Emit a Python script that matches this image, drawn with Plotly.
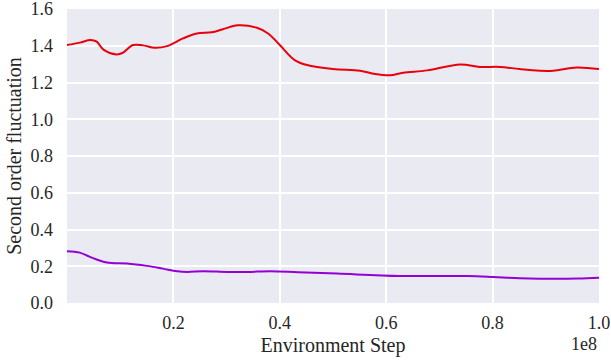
import plotly.graph_objects as go

# x in units of 1e8 environment steps
red_x = [0.0, 0.024, 0.044, 0.056, 0.068, 0.093, 0.105, 0.124, 0.143, 0.165, 0.188, 0.218, 0.244, 0.272, 0.293, 0.321, 0.357, 0.378, 0.400, 0.428, 0.451, 0.500, 0.551, 0.579, 0.607, 0.632, 0.677, 0.739, 0.776, 0.814, 0.851, 0.889, 0.914, 0.958, 1.0]
red_y = [1.404, 1.417, 1.431, 1.422, 1.380, 1.353, 1.362, 1.404, 1.402, 1.389, 1.398, 1.44, 1.467, 1.473, 1.49, 1.511, 1.498, 1.467, 1.404, 1.322, 1.295, 1.273, 1.264, 1.246, 1.239, 1.253, 1.266, 1.298, 1.285, 1.285, 1.273, 1.264, 1.264, 1.282, 1.273]

purple_x = [0.0, 0.024, 0.043, 0.075, 0.113, 0.150, 0.180, 0.207, 0.226, 0.256, 0.301, 0.338, 0.382, 0.434, 0.508, 0.626, 0.752, 0.801, 0.851, 0.959, 1.0]
purple_y = [0.282, 0.274, 0.251, 0.220, 0.215, 0.202, 0.187, 0.173, 0.169, 0.173, 0.169, 0.169, 0.173, 0.168, 0.160, 0.147, 0.147, 0.142, 0.135, 0.133, 0.138]

x_ticks = [0.2, 0.4, 0.6, 0.8, 1.0]
x_ticktext = ["0.2", "0.4", "0.6", "0.8", "1.0"]
y_ticks = [0.0, 0.2, 0.4, 0.6, 0.8, 1.0, 1.2, 1.4, 1.6]
y_ticktext = ["0.0", "0.2", "0.4", "0.6", "0.8", "1.0", "1.2", "1.4", "1.6"]

font_family = "Liberation Serif"
txt_color = "#262626"
tick_font = dict(family=font_family, size=18, color=txt_color)
title_font = dict(family=font_family, size=20, color=txt_color)

fig = go.Figure()
fig.add_trace(go.Scatter(x=red_x, y=red_y, mode="lines",
                         line=dict(color="#E8000B", width=2, shape="spline", smoothing=1.0),
                         showlegend=False))
fig.add_trace(go.Scatter(x=purple_x, y=purple_y, mode="lines",
                         line=dict(color="#9400D3", width=2, shape="spline", smoothing=1.0),
                         showlegend=False))

fig.update_layout(
    width=611, height=360,
    margin=dict(l=67, r=12, t=9, b=57),
    paper_bgcolor="white",
    plot_bgcolor="#EAEAF2",
    font=dict(family=font_family, size=18, color=txt_color),
    xaxis=dict(range=[0, 1.0000001], tickvals=x_ticks, ticktext=x_ticktext,
               tickfont=tick_font, automargin=False, ticklabeloverflow="allow",
               showgrid=True, gridcolor="white", gridwidth=1.5,
               zeroline=False, showline=False, ticks="", ticklabelstandoff=7,
               title=dict(text="Environment Step", standoff=5, font=title_font)),
    yaxis=dict(range=[0, 1.6000001], tickvals=y_ticks, ticktext=y_ticktext,
               tickfont=tick_font, automargin=False, ticklabeloverflow="allow",
               showgrid=True, gridcolor="white", gridwidth=1.5,
               zeroline=False, showline=False, ticks="", ticklabelstandoff=13,
               title=dict(text="Second order fluctuation", standoff=3, font=title_font)),
)
fig.add_annotation(text="1e8", xref="paper", yref="paper", x=1.0, y=-0.14,
                   xanchor="right", yanchor="middle", showarrow=False,
                   font=tick_font)

fig.write_html("out.html", config={"displayModeBar": False},
               post_script="document.body.style.margin='0';document.body.style.overflow='hidden';")
